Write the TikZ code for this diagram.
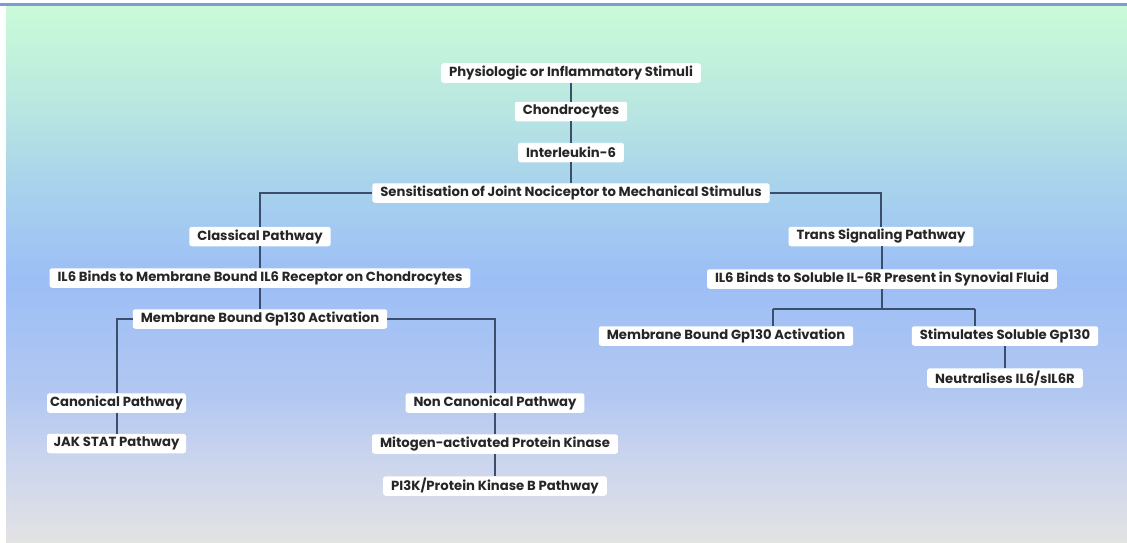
\documentclass[tikz,border=0pt]{standalone}
\usepackage{fontspec}
\setmainfont{Poppins}
\definecolor{lnc}{HTML}{3B4E6B}
\definecolor{topline}{HTML}{7B9BD2}
\definecolor{g0}{HTML}{E3E3E3}
\definecolor{g1}{HTML}{C8D3EE}
\definecolor{g2}{HTML}{B3C8F1}
\definecolor{g3}{HTML}{9CBEF6}
\definecolor{g4}{HTML}{A9D3EC}
\definecolor{g5}{HTML}{BAE8E0}
\definecolor{g6}{HTML}{CAFBD8}
\pgfdeclareverticalshading{bgshade}{100bp}{color(0bp)=(g0); color(25bp)=(g0); color(33.5bp)=(g1); color(38.5bp)=(g2); color(49.5bp)=(g3); color(58.5bp)=(g4); color(66bp)=(g5); color(75bp)=(g6); color(100bp)=(g6)}
\tikzset{
  box/.style={fill=white, rounded corners=2.5pt, inner xsep=8pt, inner ysep=0pt, minimum height=19.5pt, font=\fontsize{13.2}{15}\selectfont\bfseries, text=black!85},
  narrowbox/.style={box, inner xsep=3pt, minimum width=139pt},
  link/.style={draw=lnc, line width=1.3pt}
}
\begin{document}
\begin{tikzpicture}[x=1pt,y=-1pt]
\useasboundingbox (0,0) rectangle (1127,543);
\fill[white] (0,0) rectangle (1127,543);
\shade[shading=bgshade] (6,5) rectangle (1127,543);
\fill[topline] (0,2.8) rectangle (1127,5.6);

% nodes
\node[box] (phys) at (571,73) {Physiologic or Inflammatory Stimuli};
\node[box] (chon) at (571,111.5) {Chondrocytes};
\node[box] (il6) at (571,152.5) {Interleukin-6};
\node[box] (sens) at (571,193) {Sensitisation of Joint Nociceptor to Mechanical Stimulus};
\node[box] (clas) at (260,236.5) {Classical Pathway};
\node[box] (trans) at (881,236.5) {Trans Signaling Pathway};
\node[box] (il6m) at (260,278) {IL6 Binds to Membrane Bound IL6 Receptor on Chondrocytes};
\node[box] (il6s) at (882,279) {IL6 Binds to Soluble IL-6R Present in Synovial Fluid};
\node[box] (gpL) at (260,319) {Membrane Bound Gp130 Activation};
\node[box] (gpR) at (726,336) {Membrane Bound Gp130 Activation};
\node[box] (stim) at (1005,336) {Stimulates Soluble Gp130};
\node[box] (neut) at (1005,378) {Neutralises IL6/sIL6R};
\node[narrowbox] (can) at (116.5,403) {Canonical Pathway};
\node[narrowbox] (jak) at (116.5,443.5) {JAK STAT Pathway};
\node[box] (ncan) at (495,403) {Non Canonical Pathway};
\node[box] (mito) at (495,444) {Mitogen-activated Protein Kinase};
\node[box] (pi3k) at (495,486) {PI3K/Protein Kinase B Pathway};

\coordinate (sL) at (773,309);
\coordinate (sR) at (975,309);

% connectors
\draw[link] (phys) -- (chon);
\draw[link] (chon) -- (il6);
\draw[link] (il6) -- (sens);
\draw[link] (sens.west) -| (clas.north);
\draw[link] (sens.east) -| (trans.north);
\draw[link] (clas) -- (il6m);
\draw[link] (il6m) -- (gpL);
\draw[link] (gpL.west) -| ([xshift=0.5pt]can.north);
\draw[link] (gpL.east) -| (ncan.north);
\draw[link] ([xshift=0.5pt]can.south) -- ([xshift=0.5pt]jak.north);
\draw[link] (ncan) -- (mito);
\draw[link] (mito) -- (pi3k);
\draw[link] (trans.south -| il6s.north) -- (il6s.north);
\draw[link] (il6s.south) -- (il6s.south |- sL);
\draw[link] (sL) -- (sR);
\draw[link] (sL) -- (sL |- gpR.north);
\draw[link] (sR) -- (sR |- stim.north);
\draw[link] (stim) -- (neut);
\end{tikzpicture}
\end{document}
